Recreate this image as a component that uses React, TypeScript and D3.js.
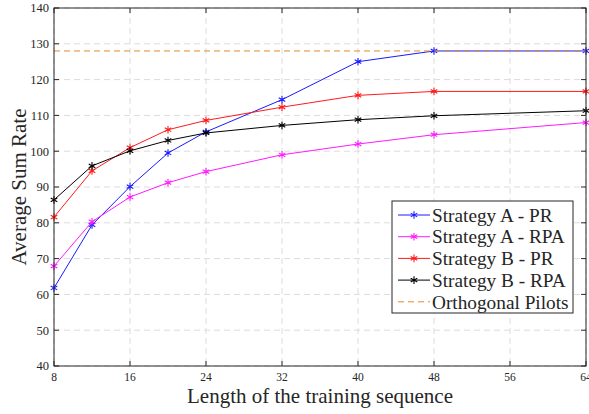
import React from "react";
import * as d3 from "d3";

const WIDTH = 589;
const HEIGHT = 414;
const MARGIN = { top: 8, right: 3, bottom: 48, left: 54 };

const lengths = [8, 12, 16, 20, 24, 32, 40, 48, 64];
const stratAPR = [61.8, 79.4, 90.1, 99.5, 105.4, 114.4, 125, 128, 128];
const stratARPA = [67.9, 80.3, 87.2, 91.2, 94.3, 99, 102, 104.6, 108];
const stratBPR = [81.6, 94.5, 101, 106, 108.6, 112.3, 115.6, 116.7, 116.7];
const stratBRPA = [86.4, 95.9, 100.1, 103, 105.1, 107.2, 108.8, 109.9, 111.3];
const orthogonal = 128;

const xTicks = [8, 16, 24, 32, 40, 48, 56, 64];
const yTicks = [40, 50, 60, 70, 80, 90, 100, 110, 120, 130, 140];

const series = [
  { name: "Strategy A - PR", values: stratAPR, color: "#1a1aff" },
  { name: "Strategy A - RPA", values: stratARPA, color: "#ff1aff" },
  { name: "Strategy B - PR", values: stratBPR, color: "#ff1a1a" },
  { name: "Strategy B - RPA", values: stratBRPA, color: "#000000" },
];
const orthoName = "Orthogonal Pilots";
const orthoColor = "#dd8a2e";

const AXIS = "#262626";
const FONT = "'Liberation Serif', 'Times New Roman', serif";

const Star = ({ x, y, color }: { x: number; y: number; color: string }) => {
  const path = d3.symbol(d3.symbolAsterisk, 40)();
  return (
    <path
      d={path || ""}
      transform={`translate(${x},${y})`}
      fill="none"
      stroke={color}
      strokeWidth={1.1}
    />
  );
};

export default function App() {
  const w = WIDTH - MARGIN.left - MARGIN.right;
  const h = HEIGHT - MARGIN.top - MARGIN.bottom;

  const xScale = d3.scaleLinear().domain([8, 64]).range([0, w]);
  const yScale = d3.scaleLinear().domain([40, 140]).range([h, 0]);

  const line = d3
    .line<number>()
    .x((_, i) => xScale(lengths[i]))
    .y((d) => yScale(d));

  // legend box, in plot coordinates
  const legendX = 392 - MARGIN.left;
  const legendY = 201 - MARGIN.top;
  const legendW = 181;
  const legendH = 112;
  const rowH = 21.7;
  const legendItems = [
    ...series.map((s) => ({ name: s.name, color: s.color, dashed: false })),
    { name: orthoName, color: orthoColor, dashed: true },
  ];

  return (
    <svg
      width={WIDTH}
      height={HEIGHT}
      style={{ position: "absolute", left: 0, top: 0, background: "#fff", fontFamily: FONT }}
    >
      <g transform={`translate(${MARGIN.left},${MARGIN.top})`}>
        {/* grid */}
        {xTicks.map((t) => (
          <line
            key={`gx${t}`}
            x1={xScale(t)}
            x2={xScale(t)}
            y1={0}
            y2={h}
            stroke="#dcdcdc"
            strokeDasharray="6,4"
          />
        ))}
        {yTicks.map((t) => (
          <line
            key={`gy${t}`}
            x1={0}
            x2={w}
            y1={yScale(t)}
            y2={yScale(t)}
            stroke="#dcdcdc"
            strokeDasharray="6,4"
          />
        ))}

        {/* series */}
        {series.map((s) => (
          <g key={s.name}>
            <path d={line(s.values) || ""} fill="none" stroke={s.color} strokeWidth={1} />
            {s.values.map((v, i) => (
              <Star key={i} x={xScale(lengths[i])} y={yScale(v)} color={s.color} />
            ))}
          </g>
        ))}
        <line
          x1={0}
          x2={w}
          y1={yScale(orthogonal)}
          y2={yScale(orthogonal)}
          stroke={orthoColor}
          strokeWidth={1}
          strokeDasharray="6,4"
        />

        {/* box and ticks */}
        <rect x={0} y={0} width={w} height={h} fill="none" stroke={AXIS} strokeWidth={1} />
        {xTicks.map((t) => (
          <g key={`tx${t}`}>
            <line x1={xScale(t)} x2={xScale(t)} y1={h} y2={h - 5} stroke={AXIS} />
            <line x1={xScale(t)} x2={xScale(t)} y1={0} y2={5} stroke={AXIS} />
            <text x={xScale(t)} y={h + 15} textAnchor="middle" fontSize={11.5} fill={AXIS}>
              {t}
            </text>
          </g>
        ))}
        {yTicks.map((t) => (
          <g key={`ty${t}`}>
            <line x1={0} x2={5} y1={yScale(t)} y2={yScale(t)} stroke={AXIS} />
            <line x1={w} x2={w - 5} y1={yScale(t)} y2={yScale(t)} stroke={AXIS} />
            <text
              x={-5}
              y={yScale(t)}
              dy="0.35em"
              textAnchor="end"
              fontSize={12.5}
              fill={AXIS}
            >
              {t}
            </text>
          </g>
        ))}

        {/* axis labels */}
        <text x={w / 2} y={h + 37} textAnchor="middle" fontSize={21} fill={AXIS}>
          Length of the training sequence
        </text>
        <text
          transform={`translate(${-28},${h / 2}) rotate(-90)`}
          textAnchor="middle"
          fontSize={21}
          fill={AXIS}
        >
          Average Sum Rate
        </text>

        {/* legend */}
        <g transform={`translate(${legendX},${legendY})`}>
          <rect width={legendW} height={legendH} fill="#fff" stroke={AXIS} strokeWidth={1} />
          {legendItems.map((it, i) => {
            const cy = 14 + i * rowH;
            return (
              <g key={it.name}>
                <line
                  x1={6}
                  x2={38}
                  y1={cy}
                  y2={cy}
                  stroke={it.color}
                  strokeWidth={1}
                  strokeDasharray={it.dashed ? "6,4" : undefined}
                />
                {!it.dashed && <Star x={22} y={cy} color={it.color} />}
                <text x={40} y={cy} dy="0.35em" fontSize={19.3} fill={AXIS}>
                  {it.name}
                </text>
              </g>
            );
          })}
        </g>
      </g>
    </svg>
  );
}
